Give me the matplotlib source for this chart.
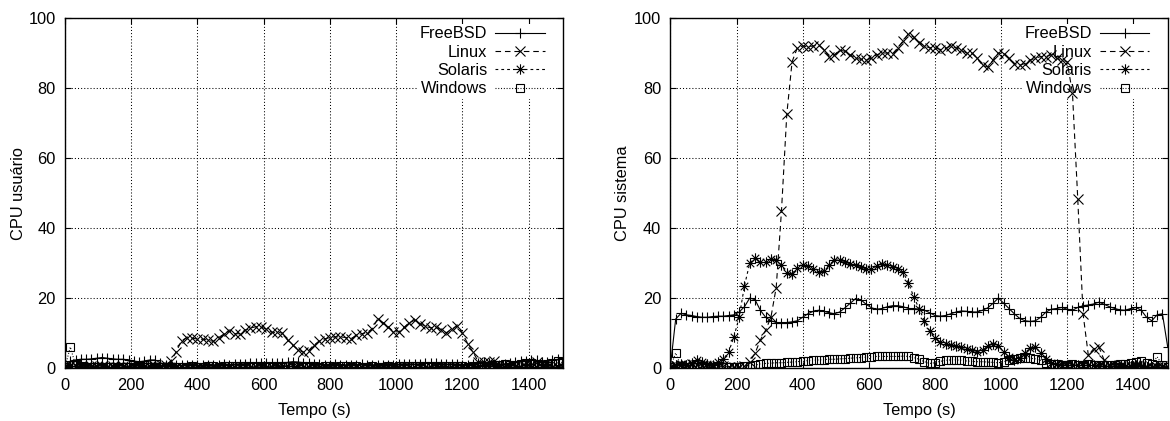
import numpy as np
import matplotlib
matplotlib.use("Agg")
import matplotlib.pyplot as plt
from matplotlib.path import Path

# ---------------- data ----------------
t = np.arange(95) * 16  # sample times (s)

user_freebsd = [0.2, 2.0, 2.3, 2.5, 2.5, 2.6, 2.8, 3.0, 2.8, 2.6,
                2.5, 2.5, 2.3, 2.0, 1.8, 2.0, 2.3, 2.3, 1.5, 0.8,
                0.7, 0.8, 0.8, 0.9, 0.8, 0.8, 0.9, 1.0, 0.9, 1.0,
                1.1, 1.0, 1.1, 1.2, 1.2, 1.3, 1.4, 1.5, 1.4, 1.3,
                1.3, 1.4, 1.6, 1.8, 1.7, 1.5, 1.3, 1.2, 1.1, 1.0,
                1.0, 1.1, 1.0, 0.9, 1.0, 1.0, 1.1, 1.0, 0.9, 1.0,
                1.0, 0.9, 1.0, 1.1, 1.2, 1.2, 1.1, 1.2, 1.3, 1.4,
                1.3, 1.2, 1.1, 1.2, 1.1, 1.0, 1.0, 1.2, 1.5, 1.6,
                1.5, 1.2, 1.0, 1.1, 1.5, 1.8, 2.0, 2.0, 2.3, 2.2,
                1.8, 1.8, 2.2, 2.5, 2.8]
user_linux = [0.5, 0.8, 0.6, 0.5, 0.4, 0.5, 0.6, 0.5, 0.4, 0.5,
              0.4, 0.5, 0.4, 0.3, 0.4, 0.5, 0.6, 0.5, 0.4, 0.9,
              2.0, 4.7, 7.8, 8.7, 8.5, 8.3, 8.2, 8.0, 7.6, 8.7,
              9.7, 10.6, 9.8, 9.8, 10.8, 11.4, 11.8, 11.7, 11.1, 10.2,
              10.2, 10.0, 8.0, 6.5, 5.2, 4.5, 5.0, 6.6, 7.6, 8.3,
              8.7, 8.9, 8.9, 8.7, 8.4, 9.3, 9.8, 10.1, 11.2, 14.0,
              13.0, 11.8, 10.4, 10.3, 11.6, 13.0, 13.6, 12.7, 11.9, 11.5,
              11.6, 11.0, 10.1, 11.1, 12.0, 10.0, 7.0, 4.6, 1.8, 1.8,
              1.8, 2.1, 0.8, 0.4, 0.3, 0.5, 0.4, 0.3, 1.0, 1.8,
              0.6, 0.3, 0.2, 0.3, 0.3]
user_solaris = [0.2, 0.6, 0.5, 0.4, 0.3, 0.4, 0.3, 0.3, 0.4, 0.3,
                0.3, 0.4, 0.3, 0.3, 0.4, 0.3, 0.3, 0.4, 0.5, 0.6,
                0.5, 0.4, 0.3, 0.4, 0.3, 0.3, 0.4, 0.3, 0.3, 0.4,
                0.3, 0.3, 0.4, 0.3, 0.3, 0.4, 0.3, 0.3, 0.4, 0.3,
                0.4, 0.5, 0.6, 0.5, 0.4, 0.3, 0.3, 0.4, 0.3, 0.3,
                0.4, 0.3, 0.3, 0.4, 0.3, 0.3, 0.4, 0.3, 0.3, 0.4,
                0.3, 0.3, 0.4, 0.3, 0.3, 0.4, 0.3, 0.3, 0.4, 0.3,
                0.4, 0.5, 0.4, 0.3, 0.4, 0.3, 0.3, 0.4, 0.6, 0.8,
                0.6, 0.5, 0.4, 0.3, 0.4, 0.3, 0.3, 0.4, 0.3, 0.3,
                0.4, 0.3, 0.3, 0.2, 0.2]
user_windows = [0.2, 6.0, 0.8, 0.5, 0.4, 0.3, 0.3, 0.4, 0.3, 0.3,
                0.3, 0.4, 0.3, 0.3, 0.4, 0.3, 0.4, 0.3, 0.3, 0.4,
                0.4, 0.3, 0.4, 0.4, 0.5, 0.4, 0.4, 0.5, 0.5, 0.4,
                0.5, 0.5, 0.6, 0.5, 0.5, 0.6, 0.6, 0.5, 0.6, 0.6,
                0.6, 0.7, 0.7, 0.6, 0.6, 0.5, 0.5, 0.5, 0.4, 0.5,
                0.5, 0.4, 0.5, 0.5, 0.4, 0.5, 0.4, 0.4, 0.5, 0.4,
                0.4, 0.5, 0.4, 0.5, 0.5, 0.6, 0.5, 0.6, 0.6, 0.5,
                0.6, 0.7, 0.6, 0.6, 0.5, 0.5, 0.4, 0.5, 0.5, 0.6,
                0.5, 0.8, 1.0, 1.2, 1.0, 0.8, 1.2, 1.5, 1.3, 1.0,
                0.8, 1.2, 1.5, 2.0, 1.5]

sys_freebsd = [0.5, 14.0, 15.6, 15.2, 15.0, 14.7, 14.5, 14.5, 14.7, 14.8,
               14.8, 15.0, 15.2, 16.0, 17.5, 20.0, 19.5, 16.5, 14.5, 13.5,
               13.0, 13.0, 13.0, 13.2, 13.5, 14.5, 15.5, 16.2, 16.5, 16.2,
               15.8, 15.5, 16.0, 17.2, 18.5, 19.8, 19.5, 18.2, 17.2, 16.8,
               17.0, 17.5, 17.8, 17.8, 17.5, 17.0, 17.0, 16.8, 16.5, 15.8,
               15.0, 14.8, 15.0, 15.5, 16.0, 16.3, 16.2, 16.0, 16.0, 16.5,
               17.2, 18.5, 20.0, 18.5, 17.0, 15.5, 14.2, 13.5, 13.3, 13.5,
               14.5, 16.0, 16.8, 17.0, 17.3, 16.8, 16.5, 17.3, 17.8, 18.0,
               18.3, 18.8, 18.2, 17.5, 17.0, 16.6, 16.5, 17.0, 17.3, 16.5,
               14.5, 13.5, 15.2, 15.5, 6.0]
sys_linux = [0.3, 0.6, 0.8, 1.0, 1.2, 1.0, 0.8, 0.6, 0.5, 0.5,
             0.5, 0.4, 0.3, 0.3, 0.5, 1.8, 4.2, 8.0, 10.8, 14.5,
             23.0, 45.0, 72.5, 87.5, 91.5, 92.0, 91.8, 92.0, 92.3, 91.0,
             89.0, 89.5, 90.8, 90.5, 89.5, 88.5, 88.2, 88.0, 88.5, 89.5,
             90.0, 90.0, 89.8, 91.5, 93.5, 95.5, 94.5, 93.0, 92.0, 91.5,
             91.5, 91.0, 91.3, 92.0, 91.5, 90.8, 90.0, 90.0, 88.5, 86.5,
             86.0, 88.0, 90.0, 89.7, 88.5, 87.0, 86.5, 87.0, 88.0, 88.5,
             89.0, 89.0, 89.5, 88.5, 88.0, 87.5, 78.5, 48.3, 15.5, 3.6,
             5.5, 6.0, 2.2, 0.8, 0.6, 0.5, 0.4, 0.5, 0.6, 0.5,
             0.4, 0.3, 0.4, 0.5, 0.3]
sys_solaris = [0.2, 0.8, 1.2, 1.0, 1.5, 2.2, 1.8, 1.2, 1.0, 1.6,
               2.5, 4.5, 8.9, 14.5, 23.5, 30.0, 31.3, 30.2, 30.2, 31.1,
               31.0, 29.3, 27.1, 27.0, 28.5, 29.3, 29.2, 28.4, 27.4, 27.8,
               29.4, 30.9, 30.8, 30.3, 29.7, 29.3, 28.8, 28.3, 28.2, 29.1,
               29.8, 29.5, 28.9, 28.4, 27.3, 24.3, 20.3, 17.0, 13.5, 10.6,
               8.6, 7.3, 6.9, 6.6, 6.3, 5.9, 5.5, 5.1, 4.7, 5.2,
               6.2, 7.0, 6.4, 4.6, 3.2, 2.4, 3.0, 4.3, 5.7, 6.0,
               4.2, 2.5, 1.4, 1.1, 1.0, 1.0, 0.8, 0.8, 1.0, 0.9,
               0.8, 0.7, 0.6, 0.5, 0.6, 0.4, 0.5, 0.6, 0.8, 0.5,
               0.4, 0.3, 0.4, 0.3, 0.2]
sys_windows = [0.2, 4.3, 0.5, 0.4, 0.4, 0.3, 0.4, 0.3, 0.3, 0.4,
               0.3, 0.4, 0.3, 0.4, 0.5, 0.6, 0.8, 1.2, 1.3, 1.4,
               1.5, 1.5, 1.6, 1.7, 1.8, 2.0, 2.1, 2.2, 2.3, 2.4,
               2.5, 2.5, 2.6, 2.7, 2.8, 2.9, 3.0, 3.1, 3.2, 3.3,
               3.3, 3.3, 3.3, 3.3, 3.4, 3.3, 3.0, 2.5, 1.8, 1.3,
               1.5, 1.9, 2.2, 2.3, 2.3, 2.2, 2.0, 1.9, 1.8, 1.8,
               1.7, 1.6, 1.5, 1.8, 2.2, 2.6, 2.8, 2.8, 2.8, 2.6,
               2.2, 1.5, 1.2, 1.1, 1.0, 1.0, 1.1, 1.0, 1.0, 1.1,
               1.0, 1.0, 0.9, 1.0, 1.0, 1.1, 1.2, 1.5, 1.8, 2.0,
               1.5, 1.2, 3.2, 0.8, 0.3]

series_names = ["FreeBSD", "Linux", "Solaris", "Windows"]
x_ticks = [0, 200, 400, 600, 800, 1000, 1200, 1400]
y_ticks = [0, 20, 40, 60, 80, 100]
x_label = "Tempo (s)"
y_labels = ["CPU usuário", "CPU sistema"]

# ---------------- style ----------------
plt.rcParams["font.family"] = ["Liberation Sans", "DejaVu Sans"]
plt.rcParams["lines.scale_dashes"] = False
FS = 11.8

ASTER = Path([(-1, 0), (1, 0), (0, -1), (0, 1),
              (-0.72, -0.72), (0.72, 0.72), (-0.72, 0.72), (0.72, -0.72)],
             [Path.MOVETO, Path.LINETO] * 4)

styles = [
    dict(ls="-", marker="+", ms=7),
    dict(ls=(0, (4.0, 2.8)), marker="x", ms=6.5),
    dict(ls=(0, (2.0, 2.2)), marker=ASTER, ms=7.5),
    dict(ls=(0, (0.7, 1.3)), marker="s", ms=5.5),
]

fig = plt.figure(figsize=(11.7, 4.21), dpi=100)
H = 421.0
W = 1170.0
ax_l = fig.add_axes([65 / W, (H - 368) / H, 498 / W, 350 / H])
ax_r = fig.add_axes([670.4 / W, (H - 368) / H, 497.3 / W, 350 / H])

data_sets = [
    [user_freebsd, user_linux, user_solaris, user_windows],
    [sys_freebsd, sys_linux, sys_solaris, sys_windows],
]

for k, (ax, ys) in enumerate(zip([ax_l, ax_r], data_sets)):
    for name, y, st in zip(series_names, ys, styles):
        ax.plot(t, y, color="black", lw=0.8, ls=st["ls"], marker=st["marker"],
                ms=st["ms"], mew=0.8, mfc="none", mec="black", label=name,
                zorder=2)
    ax.set_xlim(0, t[-1])
    ax.set_ylim(0, 100)
    ax.set_xticks(x_ticks)
    ax.set_yticks(y_ticks)
    ax.set_axisbelow(True)
    ax.grid(True, color="black", lw=0.75, ls=(0, (0.75, 1.5)))
    ax.tick_params(direction="in", length=4.5, width=0.8, top=True, right=True,
                   labelsize=FS, colors="black")
    ax.tick_params(axis="x", pad=7.5)
    ax.tick_params(axis="y", pad=6.5)
    for s in ax.spines.values():
        s.set_linewidth(1.0)
    ax.set_xlabel(x_label, fontsize=FS)
    ax.set_ylabel(y_labels[k], fontsize=FS)
    ax.xaxis.label.set_va("center")
    ax.yaxis.label.set_va("center")
    ax.xaxis.set_label_coords(0.5, -0.12)
    ax.yaxis.set_label_coords(-0.094 if k == 0 else -0.097, 0.5)

    leg = ax.legend(loc="upper right", bbox_to_anchor=(0.968, 0.983),
                    markerfirst=False, fontsize=FS, frameon=True,
                    fancybox=False, borderpad=0.15, borderaxespad=0,
                    handlelength=3.0, handletextpad=0.5, labelspacing=0.2,
                    numpoints=1)
    leg.get_frame().set_facecolor("white")
    leg.get_frame().set_edgecolor("none")
    leg.get_frame().set_alpha(1)
    leg.set_zorder(1.5)

fig.savefig("out.png", dpi=100)
